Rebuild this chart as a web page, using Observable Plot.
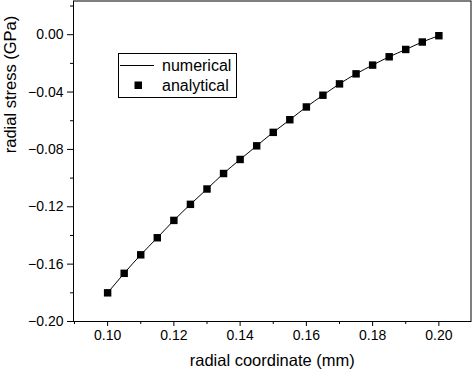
<!DOCTYPE html>
<html>
<head>
<meta charset="utf-8">
<script src="https://cdn.jsdelivr.net/npm/d3@7"></script>
<script src="https://cdn.jsdelivr.net/npm/@observablehq/plot@0.6"></script>
<style>
  html, body { margin: 0; padding: 0; background: #fff; }
  svg { font-family: "Liberation Sans", Arial, sans-serif; }
</style>
</head>
<body>
<div id="chart"></div>
<script>
const radialCoord = [0.100, 0.105, 0.110, 0.115, 0.120, 0.125, 0.130, 0.135, 0.140, 0.145, 0.150,
                     0.155, 0.160, 0.165, 0.170, 0.175, 0.180, 0.185, 0.190, 0.195, 0.200];
const analyticalStress = [-0.1800, -0.1664, -0.1535, -0.1416, -0.1295, -0.1183, -0.1076, -0.0968,
                          -0.0870, -0.0775, -0.0681, -0.0593, -0.0504, -0.0422, -0.0343, -0.0273,
                          -0.0212, -0.0154, -0.0103, -0.0051, -0.0007];
const numericalStress = analyticalStress;
const xTicks = [0.10, 0.12, 0.14, 0.16, 0.18, 0.20];
const xMinorTicks = [0.09, 0.11, 0.13, 0.15, 0.17, 0.19];
const yTicks = [-0.20, -0.16, -0.12, -0.08, -0.04, 0.00];
const yMinorTicks = [-0.18, -0.14, -0.10, -0.06, -0.02, 0.02];
const xLabel = "radial coordinate (mm)";
const yLabel = "radial stress (GPa)";
const legendLabels = ["numerical", "analytical"];

const analytical = radialCoord.map((x, i) => ({x, y: analyticalStress[i]}));
const numerical = radialCoord.map((x, i) => ({x, y: numericalStress[i]}));

const fmt = d3.format(".2f");

const plot = Plot.plot({
  width: 472,
  height: 370,
  marginLeft: 73,
  marginRight: 1.5,
  marginTop: 0.5,
  marginBottom: 49,
  style: {fontFamily: '"Liberation Sans", Arial, sans-serif', color: "#000", background: "#fff"},
  x: {domain: [0.0897, 0.2097]},
  y: {domain: [-0.2, 0.0235]},
  marks: [
    Plot.frame({stroke: "#000", strokeWidth: 1}),
    Plot.axisX({ticks: xTicks, tickSize: 5, tickPadding: 4, tickFormat: fmt, fontSize: 14, label: null, stroke: "#000", fill: "#000"}),
    Plot.axisX({ticks: xMinorTicks, tickSize: 3, tickFormat: () => "", label: null, stroke: "#000"}),
    Plot.axisY({ticks: yTicks, tickSize: 6, tickPadding: 4, tickFormat: fmt, fontSize: 14, label: null, stroke: "#000", fill: "#000"}),
    Plot.axisY({ticks: yMinorTicks, tickSize: 3, tickFormat: () => "", label: null, stroke: "#000"}),
    Plot.line(numerical, {x: "x", y: "y", stroke: "#000", strokeWidth: 1, curve: "natural"}),
    Plot.dot(analytical, {x: "x", y: "y", symbol: "square", r: 4.2, fill: "#000", stroke: "none"}),
    Plot.text([xLabel], {frameAnchor: "bottom", dy: 44, fontSize: 16.5, fill: "#000"}),
    Plot.text([yLabel], {frameAnchor: "left", rotate: -90, dx: -63, dy: -8, fontSize: 16.5, fill: "#000"})
  ]
});

document.getElementById("chart").appendChild(plot);

// Legend box
const svg = d3.select(plot);
const lg = svg.append("g")
  .attr("font-family", '"Liberation Sans", Arial, sans-serif')
  .attr("font-size", 16)
  .attr("text-anchor", "start");
lg.append("rect").attr("x", 118.5).attr("y", 53.5).attr("width", 118).attr("height", 44)
  .attr("fill", "#fff").attr("stroke", "#000").attr("stroke-width", 1);
lg.append("line").attr("x1", 120).attr("x2", 154).attr("y1", 65.5).attr("y2", 65.5)
  .attr("stroke", "#000").attr("stroke-width", 1);
lg.append("rect").attr("x", 134.5).attr("y", 81.5).attr("width", 7.5).attr("height", 7.5).attr("fill", "#000");
lg.append("text").attr("x", 162).attr("y", 71).attr("fill", "#000").text(legendLabels[0]);
lg.append("text").attr("x", 162).attr("y", 91).attr("fill", "#000").text(legendLabels[1]);
</script>
</body>
</html>
